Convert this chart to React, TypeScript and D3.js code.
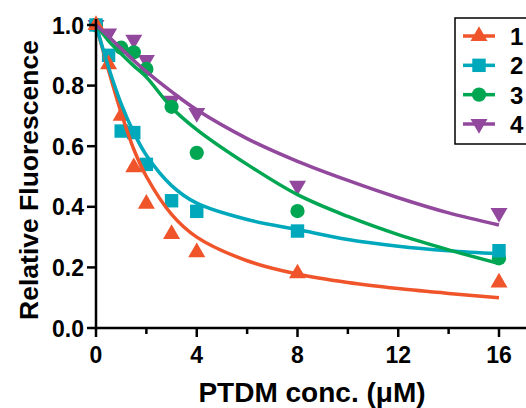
import React from "react";
import * as d3 from "d3";

// measured concentrations (uM) and relative fluorescence for each PTDM
const conc = [0, 0.5, 1, 1.5, 2, 3, 4, 8, 16];
const series1 = [1.0, 0.87, 0.7, 0.53, 0.41, 0.31, 0.25, 0.18, 0.15];
const series2 = [1.0, 0.9, 0.65, 0.645, 0.54, 0.42, 0.385, 0.32, 0.255];
const conc3 = [0, 1, 1.5, 2, 3, 4, 8, 16];
const series3 = [1.0, 0.925, 0.91, 0.855, 0.73, 0.578, 0.386, 0.23];
const series4 = [1.0, 0.972, 0.952, 0.885, 0.75, 0.71, 0.47, 0.38];
const conc4 = [0, 0.5, 1.5, 2, 3, 4, 8, 16];

// fitted curves
const fitX = [0, 0.5, 1, 1.5, 2, 3, 4, 6, 8, 10, 12, 14, 16];
const fit1 = [1.0, 0.85, 0.71, 0.59, 0.5, 0.375, 0.3, 0.222, 0.178, 0.15, 0.13, 0.114, 0.1];
const fit2 = [1.0, 0.86, 0.74, 0.645, 0.57, 0.47, 0.412, 0.358, 0.325, 0.292, 0.27, 0.255, 0.245];
const fit3 = [1.0, 0.948, 0.905, 0.865, 0.828, 0.728, 0.655, 0.54, 0.44, 0.368, 0.308, 0.258, 0.213];
const fit4 = [1.0, 0.962, 0.922, 0.883, 0.846, 0.78, 0.72, 0.625, 0.55, 0.487, 0.43, 0.38, 0.34];

const labels = ["1", "2", "3", "4"];
const colors = ["#F0542A", "#00A8BC", "#00A651", "#92499D"];
const xTicks = [0, 4, 8, 12, 16];
const xMinor = [2, 6, 10, 14];
const yTicks = [0, 0.2, 0.4, 0.6, 0.8, 1.0];

const font = "'Liberation Sans', Arial, Helvetica, sans-serif";

export default function App() {
  const width = 526;
  const height = 408;
  const x = d3.scaleLinear().domain([0, 16]).range([96, 499]);
  const y = d3.scaleLinear().domain([0, 1]).range([328, 25]);

  const line = d3
    .line<[number, number]>()
    .x((d) => x(d[0]))
    .y((d) => y(d[1]))
    .curve(d3.curveCatmullRom.alpha(0.5));

  const symTypes = [d3.symbolTriangle, d3.symbolSquare, d3.symbolCircle, d3.symbolTriangle];
  const symSizes = [125, 180, 160, 125];
  const sym = (i: number) => d3.symbol(symTypes[i], symSizes[i])() as string;
  const rot = (i: number) => (i === 3 ? " rotate(180)" : "");

  const pts = [
    conc.map((c, j) => [c, series1[j]]),
    conc.map((c, j) => [c, series2[j]]),
    conc3.map((c, j) => [c, series3[j]]),
    conc4.map((c, j) => [c, series4[j]]),
  ];
  const fits = [fit1, fit2, fit3, fit4].map((f) => fitX.map((c, j) => [c, f[j]] as [number, number]));

  const legY = d3.scaleLinear().domain([0, 3]).range([36, 124]);

  return (
    <svg width={width} height={height} style={{ position: "absolute", left: 0, top: 0 }}>
      <rect width={width} height={height} fill="#fff" />
      {/* points */}
      {[3, 2, 1, 0].map((i) => (
        <g key={"p" + i} fill={colors[i]}>
          {pts[i].map((d, j) => (
            <path key={j} d={sym(i)} transform={`translate(${x(d[0])},${y(d[1])})${rot(i)}`} />
          ))}
        </g>
      ))}
      {/* fits */}
      {[0, 1, 2, 3].map((i) => (
        <path key={"f" + i} d={line(fits[i]) as string} fill="none" stroke={colors[i]} strokeWidth={3.5} />
      ))}

      {/* axes */}
      <g stroke="#000" strokeWidth={2.5}>
        <line x1={x(0)} x2={526} y1={y(0)} y2={y(0)} />
        <line x1={x(0)} x2={x(0)} y1={y(0) + 1.2} y2={y(1.02)} />
        {xTicks.map((t) => (
          <line key={t} x1={x(t)} x2={x(t)} y1={y(0)} y2={y(0) + 9} />
        ))}
        {xMinor.map((t) => (
          <line key={t} x1={x(t)} x2={x(t)} y1={y(0)} y2={y(0) + 6} />
        ))}
        {yTicks.map((t) => (
          <line key={t} x1={x(0) - 9} x2={x(0)} y1={y(t)} y2={y(t)} />
        ))}
      </g>
      <g fontFamily={font} fontWeight="bold" fontSize={23} fill="#000">
        {xTicks.map((t) => (
          <text key={t} x={x(t)} y={363} textAnchor="middle">
            {t}
          </text>
        ))}
        {yTicks.map((t) => (
          <text key={t} x={84} y={y(t) + 8.5} textAnchor="end">
            {t.toFixed(1)}
          </text>
        ))}
      </g>
      <text x={312} y={402} textAnchor="middle" fontFamily={font} fontWeight="bold" fontSize={28}>
        PTDM conc. (μM)
      </text>
      <text
        transform="translate(38,180) rotate(-90)"
        textAnchor="middle"
        fontFamily={font}
        fontWeight="bold"
        fontSize={26.5}
      >
        Relative Fluorescence
      </text>

      {/* legend */}
      <rect x={455} y={18} width={80} height={126} fill="#fff" stroke="#000" strokeWidth={1.5} />
      {labels.map((l, i) => (
        <g key={l} transform={`translate(0,${legY(i)})`}>
          <line x1={463} x2={495} y1={0} y2={0} stroke={colors[i]} strokeWidth={3.5} />
          <path d={sym(i)} fill={colors[i]} transform={`translate(479,0)${rot(i)}`} />
          <text x={510} y={9} fontFamily={font} fontWeight="bold" fontSize={24}>
            {l}
          </text>
        </g>
      ))}
    </svg>
  );
}
